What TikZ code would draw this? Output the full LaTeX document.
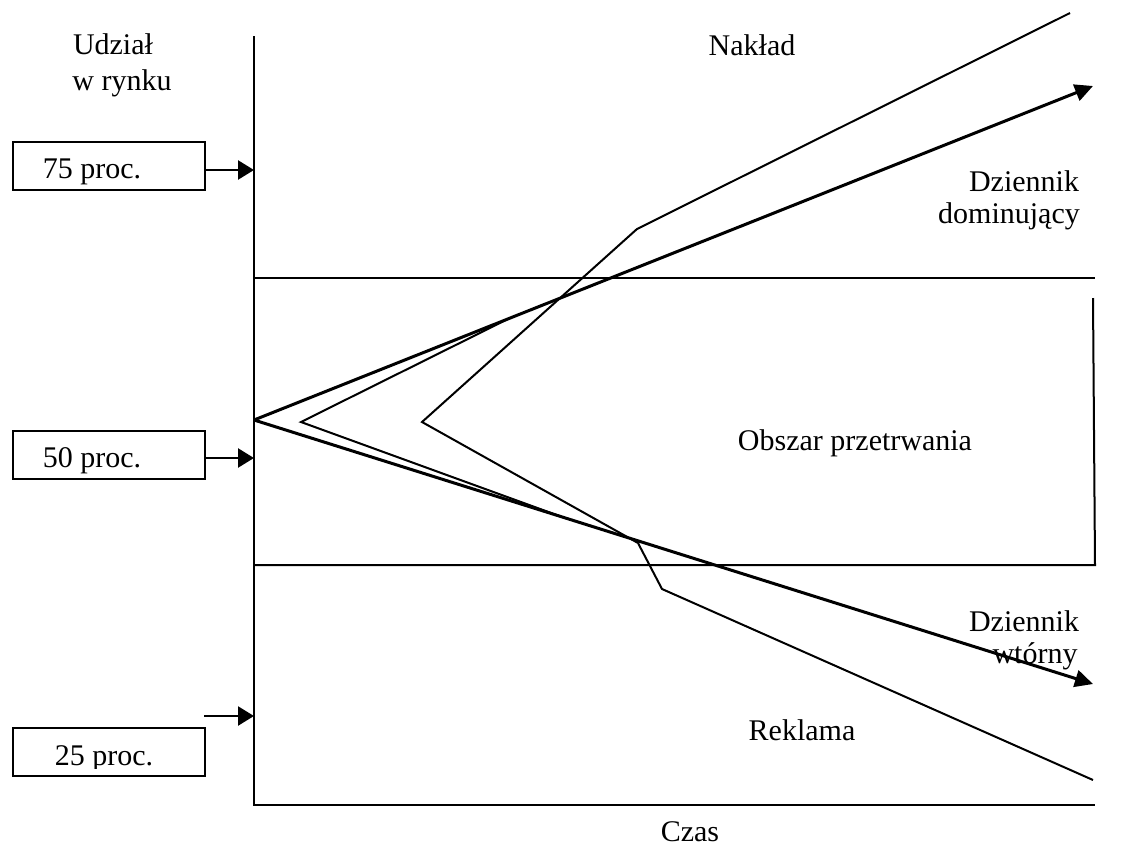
\documentclass[tikz,border=0pt]{standalone}
\usepackage{fontspec}
\setmainfont{Liberation Serif}
\usetikzlibrary{arrows.meta}
\begin{document}
\begin{tikzpicture}[x=1pt,y=-1pt,
  thin line/.style={line width=2pt},
  thick line/.style={line width=3pt},
  arr/.style={line width=2.4pt,-{Triangle[length=16pt,width=19pt]}},
  thickarr/.style={thick line,-{Triangle[length=18pt,width=17pt]}},
  pbox/.style={draw,line width=2.2pt,minimum width=192pt,minimum height=48pt,inner sep=0pt},
  lbl/.style={font=\fontsize{30}{34}\selectfont,inner sep=0pt,anchor=base}]
\path[use as bounding box] (0,0) rectangle (1133,852);
% axes
\coordinate (atop) at (254,36);
\coordinate (aorig) at (254,805);
\coordinate (aright) at (1095,805);
\draw[thin line] (atop) -- (aorig) -- (aright);
% region lines
\coordinate (h1l) at (254,278);
\coordinate (h1r) at (1095,278);
\coordinate (h2l) at (254,565);
\coordinate (h2r) at (1095,565);
\coordinate (vt) at (1093,298);
\draw[thin line] (h1l) -- (h1r);
\draw[thin line] (h2l) -- (h2r) -- (vt);
% boxes
\node[pbox] (b75) at (109,166) {};
\node[pbox] (b50) at (109,455) {};
\node[pbox] (b25) at (109,752) {};
\node[lbl] (t75) at (92,178) {75 proc.};
\node[lbl] (t50) at (92,467) {50 proc.};
\begin{scope}
\clip (13,728) rectangle (205,768);
\node[lbl] (t25) at (104,765) {25 proc.};
\end{scope}
\coordinate (a75) at (254,170);
\coordinate (a50) at (254,458);
\coordinate (a25s) at (204,716);
\coordinate (a25) at (254,716);
\draw[arr] (b75.east |- a75) -- (a75);
\draw[arr] (b50.east |- a50) -- (a50);
\draw[arr] (a25s) -- (a25);
% lines
\coordinate (o) at (254,420);
\coordinate (dom) at (1093,86);
\coordinate (sec) at (1093,684);
\draw[thickarr] (o) -- (dom);
\draw[thickarr] (o) -- (sec);
\coordinate (v2) at (301,422);
\coordinate (u2) at (510,318);
\coordinate (l2) at (565,518);
\draw[thin line] (u2) -- (v2) -- (l2);
\coordinate (n1) at (1070,13);
\coordinate (n2) at (637,229);
\coordinate (v3) at (422,422);
\coordinate (r1) at (638,543);
\coordinate (r2) at (662,589);
\coordinate (r3) at (1093,780);
\draw[thin line] (n1) -- (n2) -- (v3) -- (r1) -- (r2) -- (r3);
% labels
\node[lbl] (udz) at (113,54) {Udział};
\node[lbl] (wry) at (122,90) {w rynku};
\node[lbl] (nak) at (752,55) {Nakład};
\node[lbl] (dd1) at (1024,191) {Dziennik};
\node[lbl] (dd2) at (1009,223) {dominujący};
\node[lbl] (obs) at (855,450) {Obszar przetrwania};
\node[lbl] (dw1) at (1024,631) {Dziennik};
\node[lbl] (dw2) at (1035,663) {wtórny};
\node[lbl] (rek) at (802,740) {Reklama};
\node[lbl] (czas) at (690,841) {Czas};
\end{tikzpicture}
\end{document}
